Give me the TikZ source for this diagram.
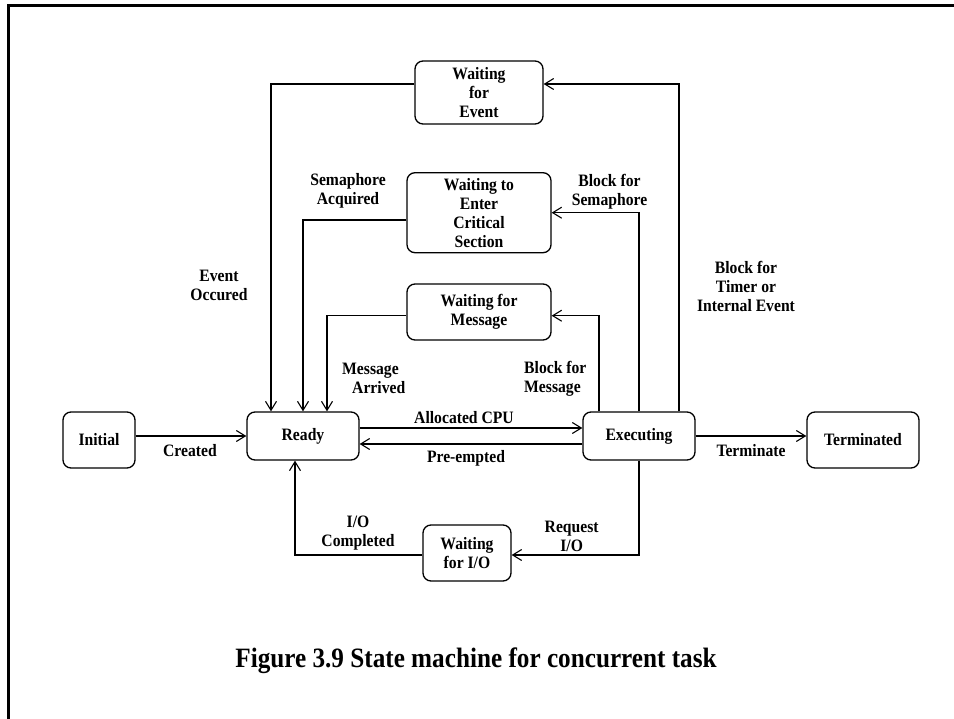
\documentclass[tikz,border=0pt]{standalone}
\usepackage{fontspec}
\setmainfont[FakeStretch=0.9]{Liberation Serif}
\usetikzlibrary{arrows.meta}
\begin{document}
\begin{tikzpicture}[x=1pt,y=-1pt,
  state/.style={draw,line width=1.3pt,rounded corners=8pt,align=center,inner sep=0pt,
    font=\fontsize{17.4}{19}\selectfont\bfseries},
  lbl/.style={align=center,inner sep=0pt,font=\fontsize{17.4}{19}\selectfont\bfseries},
  arr/.style={line width=1.4pt,-{Straight Barb[length=9pt,width=11pt,line width=1.1pt]}}]
\useasboundingbox (0,0) rectangle (954,719);
% page frame (top and left edges)
\draw[line width=2.4pt] (8.3,719) -- (8.3,5.5) -- (954,5.5);

% states
\node[state,minimum width=72pt,minimum height=56pt] (init) at (99,440) {Initial};
\node[state,minimum width=112pt,minimum height=48pt] (ready) at (303,436) {Ready};
\node[state,minimum width=112pt,minimum height=48pt] (exec) at (639,436) {Executing};
\node[state,minimum width=112pt,minimum height=56pt] (term) at (863,440) {Terminated};
\node[state,minimum width=88pt,minimum height=56pt] (wio) at (467,553) {Waiting\\ for I/O};
\node[state,minimum width=128pt,minimum height=63pt] (wev) at (479,92.5) {Waiting\\for\\Event};
\node[state,minimum width=144pt,minimum height=80pt] (wcs) at (479,212.7) {Waiting to\\Enter\\ Critical\\Section};
\node[state,minimum width=144pt,minimum height=56pt] (wmsg) at (479,312) {Waiting for\\Message};

% transitions
\draw[arr] (init.east |- ready.west) -- (ready.west);
\draw[arr] ([yshift=8pt]ready.east) -- ([yshift=8pt]exec.west);
\draw[arr] ([yshift=-8pt]exec.west) -- ([yshift=-8pt]ready.east);
\draw[arr] (exec.east) -- (exec.east -| term.west);
\draw[arr] (exec.south) |- ([yshift=-2pt]wio.east);
\draw[arr] ([yshift=-2pt]wio.west) -| ([xshift=-8pt]ready.south);
\draw[arr] ([xshift=-40pt]exec.north) |- ([yshift=-3.7pt]wmsg.east);
\draw[arr] (exec.north) |- (wcs.east);
\draw[arr] ([xshift=40pt]exec.north) |- ([yshift=8.5pt]wev.east);
\draw[arr] ([yshift=8.5pt]wev.west) -| ([xshift=-32pt]ready.north);
\draw[arr] ([yshift=-7.3pt]wcs.west) -| (ready.north);
\draw[arr] ([yshift=-3.7pt]wmsg.west) -| ([xshift=24pt]ready.north);

% transition labels
\node[lbl] (lcreated) at (190,451) {Created};
\node[lbl] (lalloc) at (464,418) {Allocated CPU};
\node[lbl] (lpre) at (466,458) {Pre-empted};
\node[lbl] (lterm) at (751,451) {Terminate};
\node[lbl] (lreq) at (571.7,536.5) {Request\\I/O};
\node[lbl] (liodone) at (358,533.3) {I/O\\Completed};
\node[lbl] (levent) at (219,285.5) {Event\\Occured};
\node[lbl] (lsemacq) at (348,191.2) {Semaphore\\ Acquired};
\node[lbl] (lsemblk) at (609.5,192.2) {Block for\\Semaphore};
\node[lbl] (ltimer) at (746,286.7) {Block for\\Timer or\\Internal Event};
\node[lbl,align=left,anchor=west] (lmsgarr) at (342,378.8) {Message\\\hspace*{10pt}Arrived};
\node[lbl,align=left,anchor=west] (lmsgblk) at (524,379) {Block for\\Message};

% caption
\node[inner sep=0pt,font=\fontsize{28}{32}\selectfont\bfseries] (caption) at (476,661)
  {Figure 3.9 State machine for concurrent task};
\end{tikzpicture}
\end{document}
